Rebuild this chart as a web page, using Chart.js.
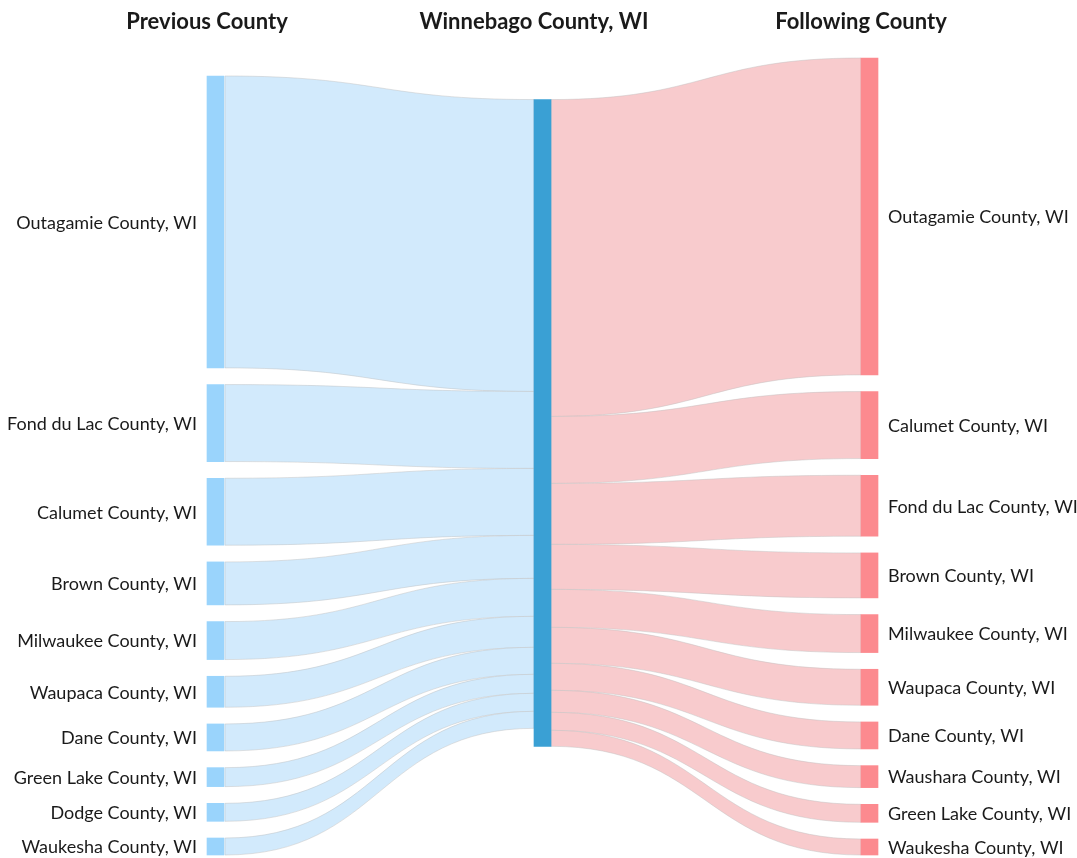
<!DOCTYPE html>
<html>
<head>
<meta charset="utf-8">
<script src="https://cdn.jsdelivr.net/npm/chart.js@4.4.1/dist/chart.umd.min.js"></script>
<style>
    html, body { margin: 0; padding: 0; background: #fff; }
    #wrap { width: 1077px; height: 858px; position: relative; }
</style>
</head>
<body>
<div id="wrap"><canvas id="sankey"></canvas></div>
<script>
const columnTitles = ['Previous County', 'Winnebago County, WI', 'Following County'];
const centerName = 'Winnebago County, WI';

const previousCounties = [
    'Outagamie County, WI', 'Fond du Lac County, WI', 'Calumet County, WI', 'Brown County, WI',
    'Milwaukee County, WI', 'Waupaca County, WI', 'Dane County, WI', 'Green Lake County, WI',
    'Dodge County, WI', 'Waukesha County, WI'
];
const previousValues = [292, 77, 67, 43, 38, 31, 27, 19, 18, 17];

const followingCounties = [
    'Outagamie County, WI', 'Calumet County, WI', 'Fond du Lac County, WI', 'Brown County, WI',
    'Milwaukee County, WI', 'Waupaca County, WI', 'Dane County, WI', 'Waushara County, WI',
    'Green Lake County, WI', 'Waukesha County, WI'
];
const followingValues = [317, 67, 61, 45, 38, 36, 27, 22, 18, 16];

(function () {
    const NODE_PAD = 16.7;   // gap between nodes, in value units
    const BAR_W = 17;
    const colors = {
        leftNode: '#9ad4fc', leftLink: '#d2eafc',
        midNode: '#3aa0d4',
        rightLink: '#f8cbcd', rightNode: '#fc8a8f',
        linkEdge: 'rgba(190,190,190,0.45)',
        text: '#1a1a1a'
    };

    const sum = a => a.reduce((s, v) => s + v, 0);
    const maxCount = Math.max(previousValues.length, followingValues.length);
    const extent = Math.max(sum(previousValues), sum(followingValues)) + (maxCount - 1) * NODE_PAD;

    // columns are stacked from the bottom edge
    function stackColumn(values) {
        let y = extent - (sum(values) + (values.length - 1) * NODE_PAD);
        return values.map(v => {
            const n = { y0: y, y1: y + v, v: v };
            y += v + NODE_PAD;
            return n;
        });
    }
    const leftNodes = stackColumn(previousValues);
    const rightNodes = stackColumn(followingValues);

    // centre node: top placed where its links would run straight (value weighted)
    let wy = 0, w = 0;
    [leftNodes, rightNodes].forEach(col => {
        let off = 0;
        col.forEach(n => { wy += n.v * (n.y0 - off); w += n.v; off += n.v; });
    });
    const midValue = Math.max(sum(previousValues), sum(followingValues));
    const midNode = { y0: wy / w, y1: wy / w + midValue };

    const nodeData = [
        ...leftNodes.map(n => ({ x: 0, y: [n.y0, n.y1] })),
        { x: 1, y: [midNode.y0, midNode.y1] },
        ...rightNodes.map(n => ({ x: 2, y: [n.y0, n.y1] }))
    ];
    const nodeColors = [
        ...leftNodes.map(() => colors.leftNode),
        colors.midNode,
        ...rightNodes.map(() => colors.rightNode)
    ];

    function ribbon(ctx, xa, ya0, ya1, xb, yb0, yb1) {
        const xm = (xa + xb) / 2;
        ctx.beginPath();
        ctx.moveTo(xa, ya0);
        ctx.bezierCurveTo(xm, ya0, xm, yb0, xb, yb0);
        ctx.lineTo(xb, yb1);
        ctx.bezierCurveTo(xm, yb1, xm, ya1, xa, ya1);
        ctx.closePath();
        ctx.fill();
        ctx.stroke();
    }

    const linksPlugin = {
        id: 'links',
        beforeDatasetsDraw(chart) {
            const { ctx, scales: { x, y } } = chart;
            ctx.save();
            ctx.lineWidth = 1;
            ctx.strokeStyle = colors.linkEdge;

            let m = midNode.y0;
            ctx.fillStyle = colors.leftLink;
            const xl = x.getPixelForValue(0) + BAR_W / 2 + 1;
            const xc0 = x.getPixelForValue(1) - BAR_W / 2;
            leftNodes.forEach(n => {
                ribbon(ctx, xl, y.getPixelForValue(n.y0), y.getPixelForValue(n.y1),
                    xc0, y.getPixelForValue(m), y.getPixelForValue(m + n.v));
                m += n.v;
            });

            m = midNode.y0;
            ctx.fillStyle = colors.rightLink;
            const xc1 = x.getPixelForValue(1) + BAR_W / 2;
            const xr = x.getPixelForValue(2) - BAR_W / 2;
            rightNodes.forEach(n => {
                ribbon(ctx, xc1, y.getPixelForValue(m), y.getPixelForValue(m + n.v),
                    xr, y.getPixelForValue(n.y0), y.getPixelForValue(n.y1));
                m += n.v;
            });
            ctx.restore();
        },
        afterDraw(chart) {
            const { ctx, scales: { x, y } } = chart;
            ctx.save();
            ctx.fillStyle = colors.text;

            ctx.font = 'bold 22px Lato';
            ctx.textAlign = 'center';
            ctx.textBaseline = 'alphabetic';
            columnTitles.forEach((t, i) => ctx.fillText(t, x.getPixelForValue(i) - BAR_W / 2, 29));

            ctx.font = '18px Lato';
            ctx.textBaseline = 'middle';
            ctx.textAlign = 'right';
            leftNodes.forEach((n, i) => {
                ctx.fillText(previousCounties[i], x.getPixelForValue(0) - BAR_W / 2 - 10,
                    y.getPixelForValue((n.y0 + n.y1) / 2) + 1);
            });
            ctx.textAlign = 'left';
            rightNodes.forEach((n, i) => {
                ctx.fillText(followingCounties[i], x.getPixelForValue(2) + BAR_W / 2 + 10,
                    y.getPixelForValue((n.y0 + n.y1) / 2) + 1);
            });
            ctx.restore();
        }
    };

    new Chart(document.getElementById('sankey'), {
        type: 'bar',
        data: {
            datasets: [{
                label: centerName,
                data: nodeData,
                backgroundColor: nodeColors,
                borderWidth: 0,
                barThickness: BAR_W,
                grouped: false,
                clip: false
            }]
        },
        options: {
            responsive: true,
            maintainAspectRatio: false,
            animation: false,
            events: [],
            layout: { padding: { left: 215.5, right: 207.5, top: 58, bottom: 3 } },
            plugins: { legend: { display: false }, tooltip: { enabled: false } },
            scales: {
                x: { type: 'linear', min: 0, max: 2, offset: false, display: false },
                y: { type: 'linear', min: 0, max: extent, reverse: true, display: false }
            }
        },
        plugins: [linksPlugin]
    });
})();
</script>
</body>
</html>
